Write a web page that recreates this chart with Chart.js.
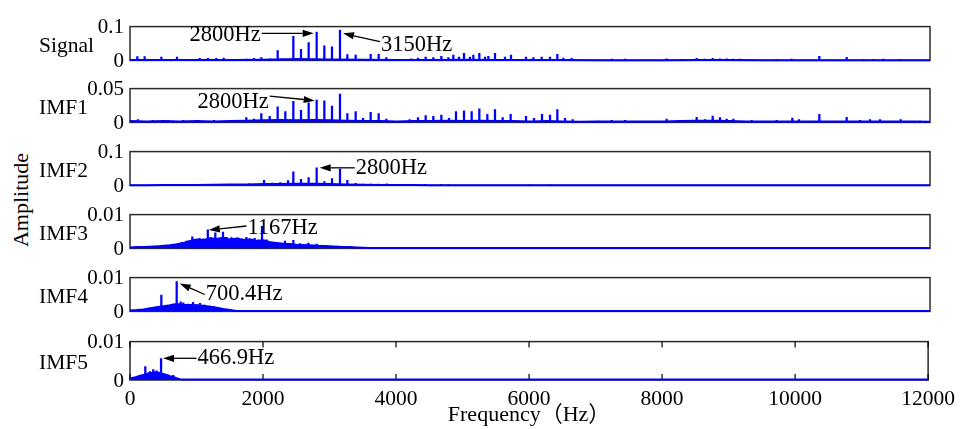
<!DOCTYPE html>
<html>
<head>
<meta charset="utf-8">
<script src="https://cdn.jsdelivr.net/npm/chart.js@4.4.0/dist/chart.umd.min.js"></script>
<style>
body { margin: 0; background: #fff; width: 961px; height: 429px; position: relative; overflow: hidden; }
canvas { position: absolute; left: 0; }
#ylab { position: absolute; left: 21px; top: 200px; transform: translate(-50%, -50%) rotate(-90deg);
  font: 22px 'Liberation Serif', serif; white-space: nowrap; color: #000; }
</style>
</head>
<body>
<div id="ylab">Amplitude</div>
<script>
// frequency axis (Hz)
const xTicks = [0, 2000, 4000, 6000, 8000, 10000, 12000];
const panelNames = ['Signal', 'IMF1', 'IMF2', 'IMF3', 'IMF4', 'IMF5'];
const yMaxes = [0.1, 0.05, 0.1, 0.01, 0.01, 0.01];

// spectral peaks  [freq, amplitude]
const signalPeaks = [[110,.011],[220,.011],[470,.010],[705,.010],[1045,.006],[1170,.006],[1295,.006],[1405,.007],
  [1750,.004],[1860,.006],[1970,.008],[2095,.005],[2215,.029],[2280,.005],[2450,.071],[2565,.033],[2680,.053],
  [2800,.084],[2915,.043],[3030,.040],[3150,.090],[3260,.017],[3385,.016],[3610,.018],[3730,.018],[3845,.008],
  [4220,.005],[4320,.007],[4435,.010],[4550,.008],[4670,.012],[4775,.008],[4850,.016],[4935,.010],[5010,.021],
  [5100,.010],[5150,.016],[5240,.021],[5325,.010],[5375,.012],[5475,.021],[5625,.010],[5715,.016],[5940,.010],
  [6050,.008],[6175,.010],[6300,.010],[6410,.018],[6500,.007],[6625,.006],[7225,.004],[7425,.004],[8050,.005],
  [8275,.003],[8500,.006],[8625,.004],[8740,.006],[8850,.005],[8950,.005],[9050,.004],[9150,.004],[9325,.003],
  [9700,.003],[9925,.004],[10340,.012],[10750,.009],[11000,.003],[11150,.003],[11300,.004],[11560,.003]];
const imf1Peaks = [[120,.004],[340,.003],[570,.003],[800,.003],[1030,.003],[1260,.003],[1500,.003],[1745,.007],
  [1860,.005],[1970,.013],[2095,.009],[2215,.023],[2330,.016],[2450,.031],[2565,.018],[2680,.029],[2800,.033],
  [2915,.032],[3030,.024],[3150,.042],[3260,.013],[3385,.016],[3495,.006],[3610,.015],[3730,.013],[3845,.005],
  [4195,.004],[4320,.007],[4435,.010],[4550,.009],[4670,.011],[4785,.006],[4890,.016],[5010,.017],[5125,.016],
  [5240,.020],[5360,.012],[5475,.019],[5590,.007],[5710,.012],[5940,.009],[6060,.006],[6180,.012],[6300,.011],
  [6410,.019],[6525,.006],[6640,.004],[7025,.002],[7225,.003],[7425,.003],[8050,.005],[8225,.003],[8500,.0075],
  [8625,.004],[8740,.0095],[8850,.007],[8950,.005],[9050,.005],[9325,.003],[9700,.003],[9935,.0065],[10035,.004],
  [10340,.012],[10750,.0075],[10950,.003],[11100,.004],[11250,.004],[11560,.004],[11850,.002]];
const imf2Peaks = [[735,.002],[1100,.002],[1535,.003],[1785,.005],[2010,.015],[2135,.007],[2255,.008],[2370,.014],
  [2450,.040],[2565,.018],[2680,.023],[2800,.052],[2915,.011],[3030,.020],[3150,.048],[3260,.015],[3385,.006],
  [3495,.004],[3610,.004],[3730,.004],[3850,.005],[4425,.003],[4670,.003],[4780,.002],[6000,.002],[6300,.002]];
const imf3Peaks = [[600,.0010],[700,.0012],[780,.0018],[850,.0022],[935,.0034],[980,.0025],[1045,.0030],[1100,.0028],
  [1167,.0055],[1210,.0032],[1280,.0046],[1330,.0030],[1395,.0048],[1450,.0033],[1520,.0032],[1570,.0030],
  [1620,.0031],[1680,.0028],[1745,.0033],[1800,.0027],[1870,.0030],[1925,.0025],[1980,.0065],[2050,.0025],
  [2100,.0020],[2200,.0018],[2325,.0022],[2450,.0024],[2550,.0014],[2675,.0016],[2800,.0013],[2950,.0009],[3100,.0007]];
const imf4Peaks = [[470,.0048],[560,.0018],[650,.0022],[700.4,.0088],[760,.0028],[800,.0025],[870,.0022],[945,.0027],
  [1000,.0020],[1050,.0024],[1120,.0019],[1200,.0016],[1260,.0014]];
const imf5Peaks = [[230,.0035],[300,.0022],[350,.0027],[400,.0024],[466.9,.0056],[530,.0015],[575,.0013],[650,.0012]];

// broadband floor under the peaks  [freq, amplitude]
const signalFloor = [[0,.001],[500,.0012],[1000,.0012],[1500,.0015],[2000,.002],[2500,.004],[3000,.003],[3500,.002],
  [4000,.0015],[4500,.0015],[5000,.002],[5500,.0015],[6000,.0015],[6500,.001],[7000,.0006],[8000,.0006],[8500,.001],
  [9000,.001],[9500,.0006],[10000,.0006],[11000,.0006],[12000,.0005]];
const imf1Floor = [[0,.002],[250,.0015],[500,.002],[750,.0015],[1000,.002],[1250,.0015],[1500,.002],[1750,.0025],
  [2000,.003],[2250,.0035],[2500,.003],[2750,.0035],[3000,.003],[3250,.0025],[3500,.002],[3750,.002],[4000,.0015],
  [4250,.002],[4500,.002],[4750,.0025],[5000,.002],[5250,.0025],[5500,.002],[5750,.002],[6000,.0015],[6250,.002],
  [6500,.0015],[6750,.001],[7000,.0012],[7250,.0015],[7500,.0012],[7750,.0015],[8000,.0015],[8250,.002],[8500,.0025],
  [8750,.0025],[9000,.002],[9250,.0015],[9500,.0012],[9750,.0015],[10000,.0015],[10250,.0012],[10500,.0015],
  [10750,.0015],[11000,.0015],[11250,.0015],[11500,.0012],[11750,.0012],[12000,.001]];
const imf2Floor = [[0,.0005],[250,.0005],[500,.001],[750,.0015],[1000,.0015],[1250,.002],[1500,.0025],[1750,.003],
  [2000,.004],[2250,.004],[2500,.005],[2750,.005],[3000,.004],[3250,.003],[3500,.002],[3750,.0015],[4000,.001],
  [4250,.001],[4500,.0008],[4750,.0005],[5000,.0003],[12000,.0002]];
const imf3Floor = [[0,.0003],[100,.0004],[200,.0004],[300,.0005],[400,.0006],[500,.0008],[600,.0009],[700,.0012],
  [800,.0016],[900,.0022],[1000,.0026],[1100,.0024],[1200,.0030],[1300,.0028],[1400,.0032],[1500,.0026],[1600,.0029],
  [1700,.0025],[1800,.0027],[1900,.0022],[2000,.0024],[2100,.0018],[2200,.0016],[2300,.0014],[2400,.0013],[2500,.0011],
  [2600,.0010],[2700,.0009],[2800,.0008],[2900,.0007],[3000,.0006],[3100,.0005],[3200,.0004],[3300,.0004],[3400,.0003],
  [3500,.0002],[3600,.0001],[12000,.0001]];
const imf4Floor = [[0,.0003],[100,.0004],[200,.0006],[300,.0009],[400,.0012],[500,.0015],[600,.0018],[700,.0022],
  [800,.0020],[900,.0019],[1000,.0018],[1100,.0017],[1200,.0014],[1300,.0011],[1400,.0007],[1500,.0004],[1600,.0001],
  [12000,.0001]];
const imf5Floor = [[0,.0004],[50,.0006],[100,.0008],[150,.0011],[200,.0013],[250,.0016],[300,.0018],[350,.0019],
  [400,.0020],[450,.0018],[500,.0016],[550,.0013],[600,.0010],[650,.0008],[700,.0005],[750,.0002],[800,.0001],
  [12000,.0001]];

const allPeaks = [signalPeaks, imf1Peaks, imf2Peaks, imf3Peaks, imf4Peaks, imf5Peaks];
const allFloors = [signalFloor, imf1Floor, imf2Floor, imf3Floor, imf4Floor, imf5Floor];

// arrow labels: text, frequency/amplitude of arrow tip, then drawing offsets in px
const notes = [
  [{text:'2800Hz', f:2800, a:0.080, dx:-3, tail:[-52, 0], tdy:1.3},
   {text:'3150Hz', f:3150, a:0.080, dx:3, tail:[37, 8.3], tdy:3}],
  [{text:'2800Hz', f:2800, a:0.0322, dx:-2, tail:[-45, -4.6], tdy:5.8}],
  [{text:'2800Hz', f:2800, a:0.052, dx:3, tail:[35, 0], tdy:0}],
  [{text:'1167Hz', f:1167, a:0.00545, dx:1, tail:[37.6, -4], tdy:1.7}],
  [{text:'700.4Hz', f:700.4, a:0.00825, dx:3, tail:[25, 11], tdy:0}],
  [{text:'466.9Hz', f:466.9, a:0.00565, dx:2, tail:[33.4, 0], tdy:0}]
];

const panelTops = [22, 84, 147, 210, 273, 337];
const plotH = 43;
const FAMILY = "'Liberation Serif', 'Times New Roman', serif";

const panelDeco = {
  id: 'panelDeco',
  beforeDatasetsDraw(chart, args, o) {
    const a = chart.chartArea, ctx = chart.ctx;
    ctx.save();
    ctx.strokeStyle = '#2b2b2b';
    ctx.lineWidth = 1.5;
    ctx.strokeRect(a.left, a.top, a.right - a.left, a.bottom - a.top);
    if (o.xTicks) {
      ctx.strokeStyle = '#000';
      ctx.lineWidth = 1.2;
      xTicks.forEach(v => {
        const x = chart.scales.x.getPixelForValue(v);
        ctx.beginPath();
        ctx.moveTo(x, a.bottom); ctx.lineTo(x, a.bottom - 6);
        ctx.moveTo(x, a.top); ctx.lineTo(x, a.top + 6);
        ctx.stroke();
      });
    }
    ctx.restore();
  },
  afterDatasetsDraw(chart, args, o) {
    const ctx = chart.ctx, a = chart.chartArea;
    const xs = chart.scales.x, ys = chart.scales.y;
    ctx.save();
    ctx.fillStyle = '#000';
    ctx.strokeStyle = '#000';
    ctx.textBaseline = 'middle';
    ctx.textAlign = 'left';
    ctx.font = '21.5px ' + FAMILY;
    ctx.fillText(o.name, 39, (a.top + a.bottom) / 2 + 2.5);
    ctx.font = '22.5px ' + FAMILY;
    o.notes.forEach(n => {
      const tx = xs.getPixelForValue(n.f) + n.dx, ty = ys.getPixelForValue(n.a);
      const lx = tx + n.tail[0], ly = ty + n.tail[1];
      const ang = Math.atan2(ty - ly, tx - lx);
      const hl = 11, hw = 3.6;
      const bx = tx - hl * Math.cos(ang), by = ty - hl * Math.sin(ang);
      ctx.lineWidth = 1.3;
      ctx.beginPath(); ctx.moveTo(lx, ly); ctx.lineTo(bx, by); ctx.stroke();
      ctx.beginPath();
      ctx.moveTo(tx, ty);
      ctx.lineTo(bx - hw * Math.sin(ang), by + hw * Math.cos(ang));
      ctx.lineTo(bx + hw * Math.sin(ang), by - hw * Math.cos(ang));
      ctx.closePath(); ctx.fill();
      const left = n.tail[0] < 0;
      ctx.textAlign = left ? 'right' : 'left';
      ctx.fillText(n.text, lx + (left ? -1 : 1), ly + n.tdy);
    });
    ctx.restore();
  }
};

panelNames.forEach((name, i) => {
  const last = i === panelNames.length - 1;
  const padTop = 14, padBot = last ? 0 : 14, axisH = last ? 49 : 0;
  const ymax = yMaxes[i];
  const cv = document.createElement('canvas');
  cv.width = 961;
  cv.height = padTop + plotH + padBot + axisH;
  cv.style.top = (panelTops[i] - padTop) + 'px';
  document.body.appendChild(cv);

  new Chart(cv.getContext('2d'), {
    type: 'line',
    data: {
      datasets: [{
        type: 'bar',
        data: allPeaks[i].map(d => ({x: d[0], y: d[1]})),
        backgroundColor: '#0000ff',
        borderWidth: 0,
        barThickness: 1.6,
        grouped: false,
        order: 0
      }, {
        type: 'line',
        data: allFloors[i].map(d => ({x: d[0], y: d[1]})),
        borderColor: '#0000ff',
        backgroundColor: '#0000ff',
        borderWidth: 2,
        fill: 'origin',
        pointRadius: 0,
        tension: 0,
        clip: false,
        order: 1
      }]
    },
    options: {
      animation: false,
      responsive: false,
      layout: { padding: { top: padTop, right: 31, bottom: padBot, left: 0 } },
      plugins: {
        legend: { display: false },
        tooltip: { enabled: false },
        panelDeco: { name: name, notes: notes[i], xTicks: last }
      },
      scales: {
        x: {
          type: 'linear', min: 0, max: 12000, offset: false, display: last,
          afterBuildTicks: s => { s.ticks = xTicks.map(v => ({value: v})); },
          afterFit: s => { if (last) s.height = axisH; },
          ticks: { font: { family: FAMILY, size: 21.5 }, color: '#000', padding: 6, maxRotation: 0, autoSkip: false,
                   callback: v => String(v) },
          grid: { display: false, drawTicks: false },
          border: { display: false },
          title: { display: true, text: 'Frequency（Hz）', color: '#000',
                   font: { family: "'Liberation Serif', 'Noto Sans CJK SC', serif", size: 22 },
                   padding: { top: 0, bottom: 1 } }
        },
        y: {
          min: 0, max: ymax,
          afterFit: s => { s.width = 130; },
          afterBuildTicks: s => { s.ticks = [{value: 0}, {value: ymax}]; },
          ticks: { font: { family: FAMILY, size: 21 }, color: '#000', padding: 6, labelOffset: 1,
                   callback: v => v === 0 ? '0' : String(v) },
          grid: { display: false, drawTicks: false },
          border: { display: false }
        }
      }
    },
    plugins: [panelDeco]
  });
});
</script>
</body>
</html>
